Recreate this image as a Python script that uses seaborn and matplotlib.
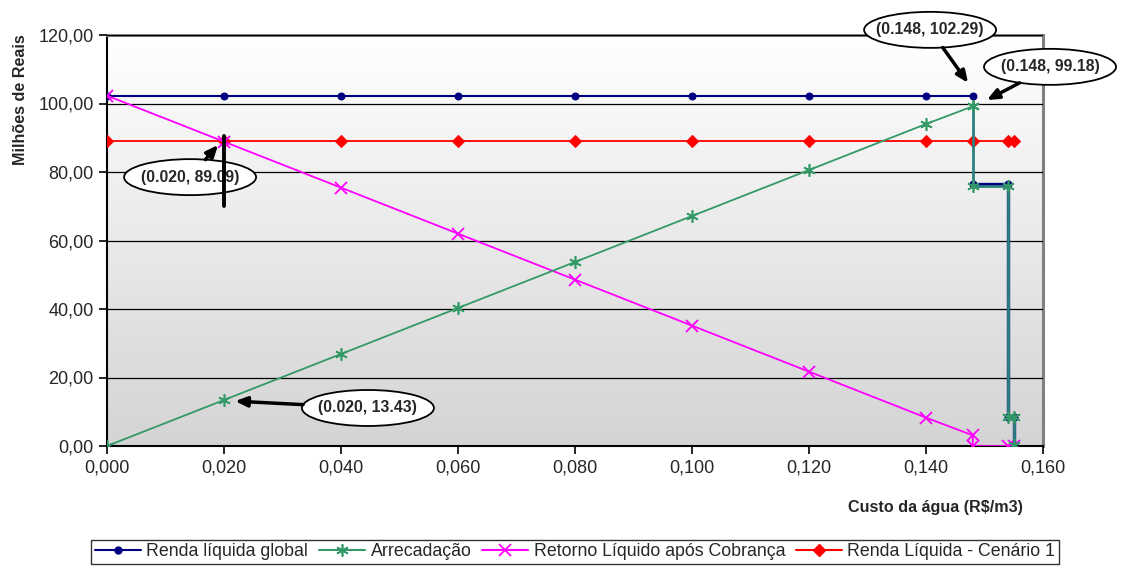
import numpy as np
import pandas as pd
import matplotlib
matplotlib.use("Agg")
import matplotlib.pyplot as plt
from matplotlib.patches import Ellipse
from matplotlib.ticker import FuncFormatter
import seaborn as sns

# ---------------- data ----------------
custo_main = [0.000, 0.020, 0.040, 0.060, 0.080, 0.100, 0.120, 0.140, 0.148]
custo_tail = [0.148, 0.154, 0.154, 0.155, 0.155]

renda_global_main = [102.29, 102.29, 102.29, 102.29, 102.29, 102.29, 102.29, 102.29, 102.29]
renda_global_tail = [76.5, 76.5, 8.5, 8.5, 0.3]

arrecadacao_main = [0.0, 13.43, 26.86, 40.29, 53.72, 67.15, 80.58, 94.01, 99.18]
arrecadacao_tail = [76.0, 76.0, 8.5, 8.5, 0.3]

retorno_x = [0.000, 0.020, 0.040, 0.060, 0.080, 0.100, 0.120, 0.140, 0.148, 0.148, 0.154, 0.155]
retorno_y = [102.29, 88.86, 75.43, 62.00, 48.57, 35.14, 21.71, 8.28, 3.11, 0.0, 0.0, 0.0]

cenario1_x = [0.000, 0.020, 0.040, 0.060, 0.080, 0.100, 0.120, 0.140, 0.148, 0.154, 0.155]
cenario1_y = [89.09] * 11

series_names = ["Renda líquida global", "Arrecadação",
                "Retorno Líquido após Cobrança", "Renda Líquida - Cenário 1"]

callout_texts = ["(0.148, 102.29)", "(0.148, 99.18)", "(0.020, 89.09)", "(0.020, 13.43)"]
callout_targets = [(0.1472, 106.0), (0.1504, 101.0), (0.0190, 87.9), (0.0219, 13.1)]
callout_centers = [(0.1407, 121.5), (0.1612, 110.7), (0.0142, 78.5), (0.0446, 11.1)]
marker_bar_x = [0.020, 0.020]
marker_bar_y = [90.6, 70.2]

xticks = [0.000, 0.020, 0.040, 0.060, 0.080, 0.100, 0.120, 0.140, 0.160]
yticks = [0, 20, 40, 60, 80, 100, 120]

# ---------------- style ----------------
sns.set_style("ticks")
plt.rcParams["font.family"] = ["Liberation Sans", "DejaVu Sans"]

W, H = 1122, 583
L, T, R, B = 107, 35, 1043, 446
fig = plt.figure(figsize=(W / 100, H / 100), dpi=100)
ax = fig.add_axes([L / W, 1 - B / H, (R - L) / W, (B - T) / H])

XMAX, YMAX = 0.16, 120
px_x = XMAX / (R - L)      # data per pixel (x)
px_y = YMAX / (B - T)      # data per pixel (y)

# gradient plot-area background (white top -> grey bottom)
grad = np.linspace(0, 1, 256).reshape(-1, 1)
cmap = matplotlib.colors.LinearSegmentedColormap.from_list("g", ["#ffffff", "#d4d4d4"])
ax.imshow(grad, extent=[0, XMAX, 0, YMAX], origin="upper", aspect="auto", cmap=cmap, zorder=0)

NAVY = "#000080"
GREEN = "#339966"
MAG = "#ff00ff"
RED = "#ff0000"
TEAL = "#2e8080"

ast = (6, 2, 0)
common = dict(ax=ax, sort=False, estimator=None, errorbar=None)

sns.lineplot(x=custo_main, y=renda_global_main, color=NAVY, lw=1.5,
             marker="o", markersize=5, markeredgecolor=NAVY, zorder=3, **common)
sns.lineplot(x=custo_tail, y=renda_global_tail, color=NAVY, lw=2.4,
             marker="o", markersize=5, markeredgecolor=NAVY, zorder=3, **common)
sns.lineplot(x=cenario1_x, y=cenario1_y, color=RED, lw=1.3,
             marker="D", markersize=6, markeredgecolor=RED, zorder=4, **common)
sns.lineplot(x=retorno_x, y=retorno_y, color=MAG, lw=1.3,
             marker="x", markersize=8, markeredgewidth=1.3, markeredgecolor=MAG, zorder=4, **common)
sns.lineplot(x=custo_main, y=arrecadacao_main, color=GREEN, lw=1.3,
             marker=ast, markersize=9, markeredgewidth=1.2, markeredgecolor=GREEN, zorder=5, **common)
sns.lineplot(x=[custo_main[-1]] + custo_tail, y=[arrecadacao_main[-1]] + arrecadacao_tail,
             color=TEAL, lw=2.0, marker=ast, markersize=9, markeredgewidth=1.2,
             markeredgecolor=GREEN, zorder=5, **common)

# callouts: ellipse + bold text + arrow from ellipse edge
ell_w_px, ell_h_px = 132, 36
for txt, tgt, ctr in zip(callout_texts, callout_targets, callout_centers):
    a, b = ell_w_px / 2, ell_h_px / 2
    dx = (tgt[0] - ctr[0]) / px_x
    dy = (tgt[1] - ctr[1]) / px_y
    t = 1.0 / np.sqrt((dx / a) ** 2 + (dy / b) ** 2)
    start = (ctr[0] + t * dx * px_x, ctr[1] + t * dy * px_y)
    ax.add_patch(Ellipse(ctr, ell_w_px * px_x, ell_h_px * px_y, fc="white", ec="black",
                         lw=1.3, zorder=7, clip_on=False))
    ax.text(ctr[0], ctr[1], txt, ha="center", va="center", fontsize=11.3,
            fontweight="bold", zorder=8, clip_on=False)
    ax.annotate("", xy=tgt, xytext=start, annotation_clip=False, zorder=8,
                arrowprops=dict(arrowstyle="-|>,head_length=0.7,head_width=0.3",
                                color="black", lw=2.5, shrinkA=0, shrinkB=0))

# callout marker bar
ax.plot(marker_bar_x, marker_bar_y, color="black", lw=2.8, zorder=9)

ax.set_xlim(0, XMAX)
ax.set_ylim(0, YMAX)
ax.set_xticks(xticks)
ax.set_yticks(yticks)
ax.xaxis.set_major_formatter(FuncFormatter(lambda v, p: f"{v:.3f}".replace(".", ",")))
ax.yaxis.set_major_formatter(FuncFormatter(lambda v, p: f"{v:.2f}".replace(".", ",")))
ax.tick_params(axis="both", labelsize=13, length=6, width=1.2, color="black", direction="out")
ax.yaxis.grid(True, color="black", lw=0.9, zorder=1)
ax.set_axisbelow(False)
for l in ax.get_ygridlines():
    l.set_zorder(1)

for s in ["left", "bottom"]:
    ax.spines[s].set_color("black")
    ax.spines[s].set_linewidth(1.5)
for s in ["top", "right"]:
    ax.spines[s].set_color("#808080")
    ax.spines[s].set_linewidth(2.2)

ax.set_xlabel("Custo da água (R$/m3)", fontsize=11.6, fontweight="bold")
ax.xaxis.set_label_coords((935 - L) / (R - L), (B - 500) / (B - T))
ax.set_ylabel("Milhões de Reais", fontsize=11.6, fontweight="bold")
ax.yaxis.set_label_coords((28 - L) / (R - L), (B - 100) / (B - T))

# legend
handles = [
    plt.Line2D([], [], color=NAVY, lw=1.5, marker="o", markersize=5),
    plt.Line2D([], [], color=GREEN, lw=1.5, marker=ast, markersize=9, markeredgewidth=1.2),
    plt.Line2D([], [], color=MAG, lw=1.5, marker="x", markersize=8, markeredgewidth=1.3),
    plt.Line2D([], [], color=RED, lw=1.5, marker="D", markersize=6),
]
leg = fig.legend(handles, series_names, loc="center", bbox_to_anchor=(575 / W, 1 - 552 / H),
                 ncol=4, fontsize=12.8, frameon=True, fancybox=False, handlelength=2.6,
                 handletextpad=0.3, columnspacing=0.6, borderpad=0.2, borderaxespad=0)
leg.get_frame().set_edgecolor("black")
leg.get_frame().set_linewidth(1.0)

fig.savefig("out.png", dpi=100)
